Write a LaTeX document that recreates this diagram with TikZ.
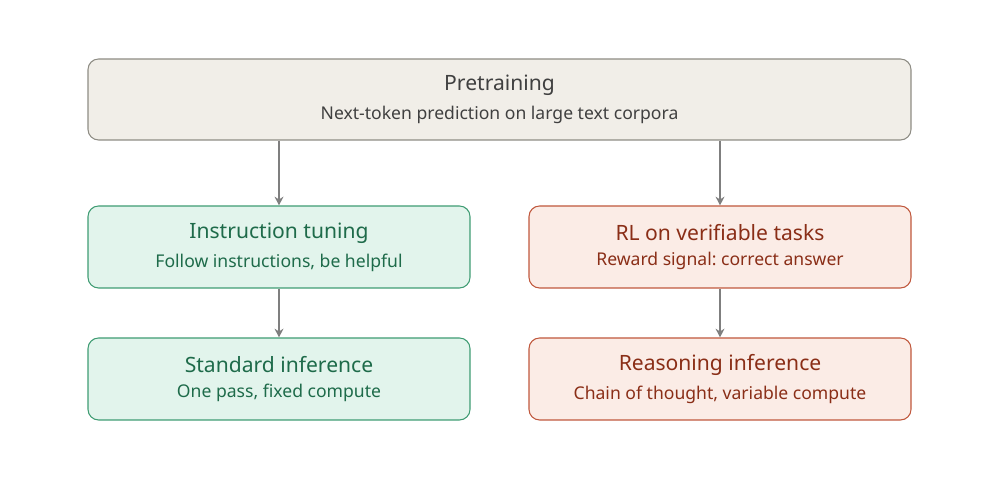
\documentclass[tikz,border=0pt]{standalone}
\usepackage{fontspec}
\setmainfont{Noto Sans}
\frenchspacing
\usetikzlibrary{arrows.meta, positioning}
\definecolor{topfill}{HTML}{F1EEE8}
\definecolor{topdraw}{HTML}{8E8C84}
\definecolor{greenfill}{HTML}{E2F4EC}
\definecolor{greendraw}{HTML}{3F9C73}
\definecolor{greentext}{HTML}{1E6B4A}
\definecolor{redfill}{HTML}{FBECE6}
\definecolor{reddraw}{HTML}{C0583D}
\definecolor{redtext}{HTML}{8A2E17}
\definecolor{arrowgray}{HTML}{7F7F7F}
\tikzset{
  stage/.style={rounded corners=6pt, line width=0.6pt, align=center, inner sep=0pt},
  topbox/.style={stage, fill=topfill, draw=topdraw, text=black!75, minimum width=16.46cm, minimum height=1.62cm},
  greenbox/.style={stage, fill=greenfill, draw=greendraw, text=greentext, minimum width=7.64cm, minimum height=1.64cm},
  redbox/.style={stage, fill=redfill, draw=reddraw, text=redtext, minimum width=7.64cm, minimum height=1.64cm},
  flow/.style={-{Stealth[length=5pt,width=5pt]}, arrowgray, line width=1pt},
}
\newcommand{\boxtext}[2]{\raisebox{-3pt}{\shortstack{{\fontsize{12}{15}\selectfont #1}\\[3pt]{\fontsize{10}{12}\selectfont #2}}}}
\begin{document}
\begin{tikzpicture}
    \useasboundingbox (0,0) rectangle (20,10);
    % top stage
    \node[topbox] (pre) at (9.99,8.01) {\boxtext{Pretraining}{Next-token prediction on large text corpora}};
    % left branch
    \node[greenbox] (inst) at (5.58,5.06) {\boxtext{Instruction tuning}{Follow instructions, be helpful}};
    \node[greenbox] (std) at (5.58,2.42) {\boxtext{Standard inference}{One pass, fixed compute}};
    % right branch
    \node[redbox] (rl) at (14.4,5.06) {\boxtext{RL on verifiable tasks}{Reward signal: correct answer}};
    \node[redbox] (reas) at (14.4,2.42) {\boxtext{Reasoning inference}{Chain of thought, variable compute}};
    % arrows
    \draw[flow] (pre.south -| inst) -- (inst);
    \draw[flow] (pre.south -| rl) -- (rl);
    \draw[flow] (inst) -- (std);
    \draw[flow] (rl) -- (reas);
\end{tikzpicture}
\end{document}
